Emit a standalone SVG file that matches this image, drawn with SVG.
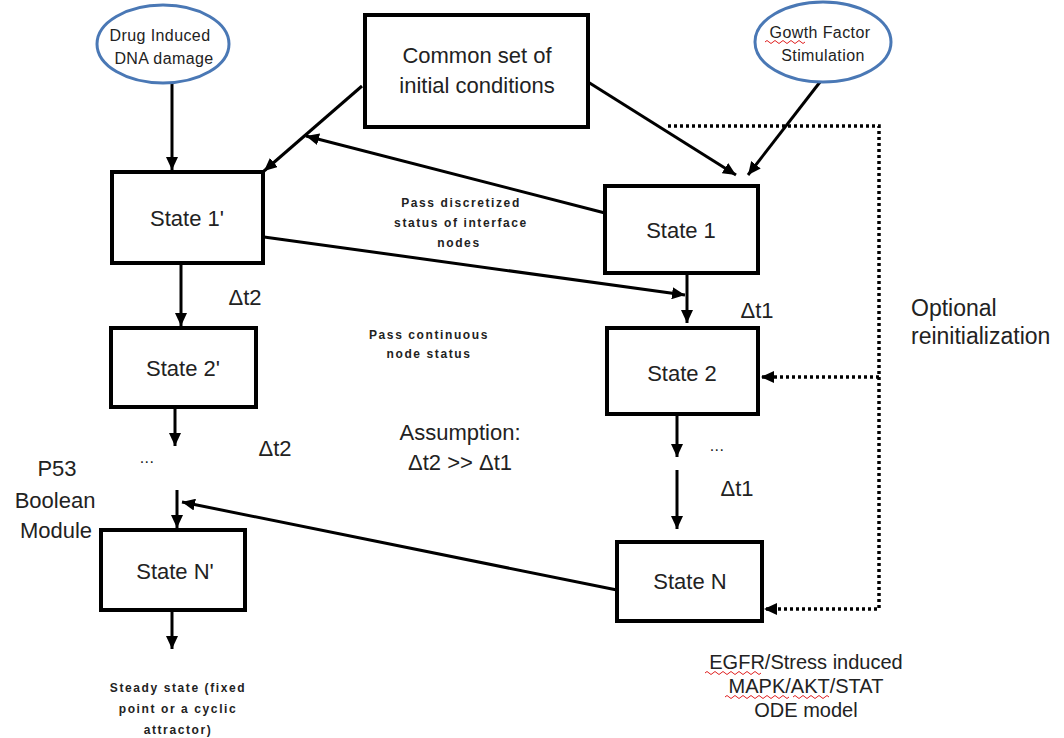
<svg xmlns="http://www.w3.org/2000/svg" width="1064" height="738" viewBox="0 0 1064 738">
<defs>
<style>
.box{fill:#fff;stroke:#000;stroke-width:4}
.ell{fill:#fff;stroke:#4a78b5;stroke-width:3}
.ln{fill:none;stroke:#000;stroke-width:3}
.dot{fill:none;stroke:#000;stroke-width:3.5;stroke-dasharray:3 3}
.t{font-family:"Liberation Sans",Arial,sans-serif;fill:#222;text-anchor:middle}
.big{font-size:22px}
.mid{font-size:20px}
.sm{font-size:16px;letter-spacing:0.4px}
.xs{font-size:12px;font-weight:bold;letter-spacing:1.6px}
.sq{fill:none;stroke:#e02020;stroke-width:1}
</style>
<marker id="ah" markerUnits="userSpaceOnUse" markerWidth="14" markerHeight="12" refX="13" refY="6" orient="auto">
<path d="M0,0 L13,6 L0,12 z" fill="#000"/>
</marker>
</defs>

<g id="connectors">
<line class="ln" x1="172" y1="84" x2="172" y2="170" marker-end="url(#ah)"/>
<line class="ln" x1="362" y1="86" x2="264" y2="171" marker-end="url(#ah)"/>
<line class="ln" x1="605" y1="213" x2="306" y2="136" marker-end="url(#ah)"/>
<line class="ln" x1="588" y1="82" x2="736" y2="175" marker-end="url(#ah)"/>
<line class="ln" x1="820" y1="82" x2="748" y2="175" marker-end="url(#ah)"/>
<line class="ln" x1="264" y1="237" x2="685" y2="295" marker-end="url(#ah)"/>
<line class="ln" x1="687" y1="273" x2="687" y2="323" marker-end="url(#ah)"/>
<line class="ln" x1="181" y1="263" x2="181" y2="326" marker-end="url(#ah)"/>
<line class="ln" x1="175" y1="408" x2="175" y2="446" marker-end="url(#ah)"/>
<line class="ln" x1="177" y1="490" x2="177" y2="528" marker-end="url(#ah)"/>
<line class="ln" x1="617" y1="590" x2="182" y2="502" marker-end="url(#ah)"/>
<line class="ln" x1="172" y1="610" x2="172" y2="649" marker-end="url(#ah)"/>
<line class="ln" x1="677" y1="414" x2="677" y2="457" marker-end="url(#ah)"/>
<line class="ln" x1="677" y1="470" x2="677" y2="529" marker-end="url(#ah)"/>
<polyline class="dot" points="668,126 879,126 879,609 764,609" marker-end="url(#ah)"/>
<line class="dot" x1="879" y1="377" x2="761" y2="377" marker-end="url(#ah)"/>
</g>

<g id="drug">
<ellipse class="ell" cx="163" cy="44" rx="66" ry="39"/>
<text class="t sm" x="160" y="41">Drug Induced</text>
<text class="t sm" x="164" y="64">DNA damage</text>
</g>

<g id="growth">
<ellipse class="ell" cx="823" cy="42" rx="68" ry="40"/>
<text class="t sm" x="820" y="38">Gowth Factor</text>
<text class="t sm" x="823" y="61">Stimulation</text>
<path class="sq" d="M765,42 q2,-3 4,0 t4,0 t4,0 t4,0 t4,0 t4,0 t4,0 t4,0 t4,0 t4,0"/>
</g>

<g id="common">
<rect class="box" x="365" y="15" width="223" height="112"/>
<text class="t big" x="477" y="63">Common set of</text>
<text class="t big" x="477" y="93">initial conditions</text>
</g>

<g id="state1p">
<rect class="box" x="112" y="172" width="151" height="91"/>
<text class="t big" x="187" y="226">State 1'</text>
</g>

<g id="state2p">
<rect class="box" x="111" y="328" width="145" height="79"/>
<text class="t big" x="183" y="376">State 2'</text>
</g>

<g id="stateNp">
<rect class="box" x="101" y="530" width="144" height="80"/>
<text class="t big" x="175" y="579">State N'</text>
</g>

<g id="state1">
<rect class="box" x="605" y="186" width="153" height="87"/>
<text class="t big" x="681" y="238">State 1</text>
</g>

<g id="state2">
<rect class="box" x="607" y="328" width="151" height="86"/>
<text class="t big" x="682" y="381">State 2</text>
</g>

<g id="stateN">
<rect class="box" x="617" y="542" width="145" height="79"/>
<text class="t big" x="690" y="589">State N</text>
</g>

<g id="labels">
<text class="t big" x="245" y="305">Δt2</text>
<text class="t big" x="275" y="456">Δt2</text>
<text class="t big" x="757" y="318">Δt1</text>
<text class="t big" x="737" y="496">Δt1</text>
<text class="t sm" x="147" y="463">...</text>
<text class="t sm" x="717" y="451">...</text>
<text class="t xs" x="461" y="207">Pass discretized</text>
<text class="t xs" x="461" y="227">status of interface</text>
<text class="t xs" x="459" y="247">nodes</text>
<text class="t xs" x="429" y="339">Pass continuous</text>
<text class="t xs" x="429" y="358">node status</text>
<text class="t big" x="460" y="440">Assumption:</text>
<text class="t big" x="460" y="470">Δt2 &gt;&gt; Δt1</text>
<text class="t big" x="57" y="476">P53</text>
<text class="t big" x="55" y="508">Boolean</text>
<text class="t big" x="56" y="538">Module</text>
<text class="t big" x="911" y="316" style="text-anchor:start;font-size:23px">Optional</text>
<text class="t big" x="911" y="344" style="text-anchor:start;font-size:23px">reinitialization</text>
<text class="t xs" x="178" y="692">Steady state (fixed</text>
<text class="t xs" x="178" y="713">point or a cyclic</text>
<text class="t xs" x="178" y="734">attractor)</text>
<text class="t mid" x="806" y="669">EGFR/Stress induced</text>
<text class="t mid" x="806" y="693">MAPK/AKT/STAT</text>
<text class="t mid" x="806" y="717">ODE model</text>
<path class="sq" d="M705,673 q2,-3 4,0 t4,0 t4,0 t4,0 t4,0 t4,0 t4,0 t4,0 t4,0 t4,0 t4,0 t4,0 t4,0 t4,0"/>
<path class="sq" d="M725,697 q2,-3 4,0 t4,0 t4,0 t4,0 t4,0 t4,0 t4,0 t4,0 t4,0 t4,0 t4,0 t4,0 t4,0 t4,0 t4,0 t4,0"/>
<path class="sq" d="M793,697 q2,-3 4,0 t4,0 t4,0 t4,0 t4,0 t4,0 t4,0 t4,0 t4,0"/>
</g>
</svg>
